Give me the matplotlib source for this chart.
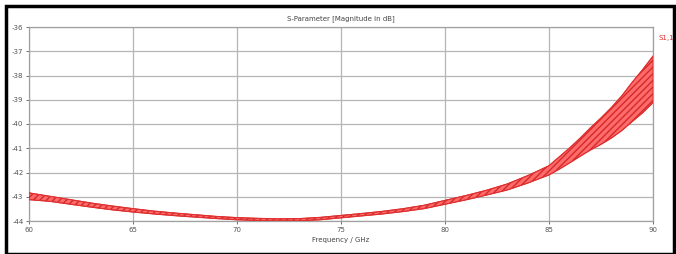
import matplotlib
matplotlib.use("Agg")
import matplotlib.pyplot as plt
from matplotlib.patches import Rectangle

plt.rcParams['axes.unicode_minus'] = False
plt.rcParams['font.family'] = ['DejaVu Sans']

# frequency knots (GHz) and upper / lower envelope of the rippled S1,1 trace (dB)
freq = [60, 61, 62, 63, 64, 65, 66, 67, 68, 69, 70, 71, 72, 73, 74, 75,
        76, 77, 78, 79, 80, 81, 82, 83, 84, 85, 85.5, 86, 86.5, 87, 87.5,
        88, 88.5, 89, 89.5, 90]
s11_hi = [-42.84, -42.98, -43.12, -43.26, -43.38, -43.49, -43.59, -43.67, -43.74, -43.81, -43.86, -43.89,
          -43.91, -43.90, -43.85, -43.77, -43.69, -43.60, -43.49, -43.35, -43.15, -42.95, -42.73, -42.47,
          -42.12, -41.72, -41.35, -40.98, -40.58, -40.15, -39.75, -39.32, -38.84, -38.28, -37.76, -37.20]
s11_lo = [-43.12, -43.19, -43.31, -43.43, -43.54, -43.63, -43.71, -43.78, -43.84, -43.90, -43.95, -43.98,
          -44.00, -43.99, -43.95, -43.87, -43.79, -43.71, -43.61, -43.49, -43.31, -43.13, -42.93, -42.72,
          -42.43, -42.10, -41.86, -41.60, -41.33, -41.07, -40.84, -40.58, -40.27, -39.90, -39.54, -39.12]

x_ticks = [60, 65, 70, 75, 80, 85, 90]
y_ticks = [-36, -37, -38, -39, -40, -41, -42, -43, -44]

fig = plt.figure(figsize=(6.76, 2.54), dpi=100)
ax = fig.add_axes([29 / 676, 1 - 221 / 254, (653 - 29) / 676, (221 - 27) / 254])

ax.fill_between(freq, s11_lo, s11_hi, facecolor='#ff6b6b', edgecolor='#d42a2a',
                hatch='/////', linewidth=0.6, zorder=3)
ax.plot(freq, s11_hi, color='#e03030', lw=0.8, zorder=4)
ax.plot(freq, s11_lo, color='#e03030', lw=0.8, zorder=4)

ax.set_xlim(60, 90)
ax.set_ylim(-44, -36)
ax.set_xticks(x_ticks)
ax.set_yticks(y_ticks)
ax.tick_params(labelsize=5, length=2, width=0.6, colors='#555555', pad=2)
ax.grid(True, color='#b5b5b5', lw=0.9)
ax.set_axisbelow(True)
for sp in ax.spines.values():
    sp.set_color('#a0a0a0')
    sp.set_linewidth(0.9)

ax.set_title('S-Parameter [Magnitude in dB]', fontsize=5, color='#444444', pad=5)
ax.set_xlabel('Frequency / GHz', fontsize=5, color='#444444', labelpad=3)

fig.text(0.974, 1 - 38 / 254, 'S1,1', color='#e03030', fontsize=5, ha='left', va='center')

fig.patches.append(Rectangle((6 / 676, 0.0), 668 / 676, 1 - 6 / 254, transform=fig.transFigure,
                             fill=False, edgecolor='black', linewidth=2.5))

fig.savefig('out.png', dpi=100)
